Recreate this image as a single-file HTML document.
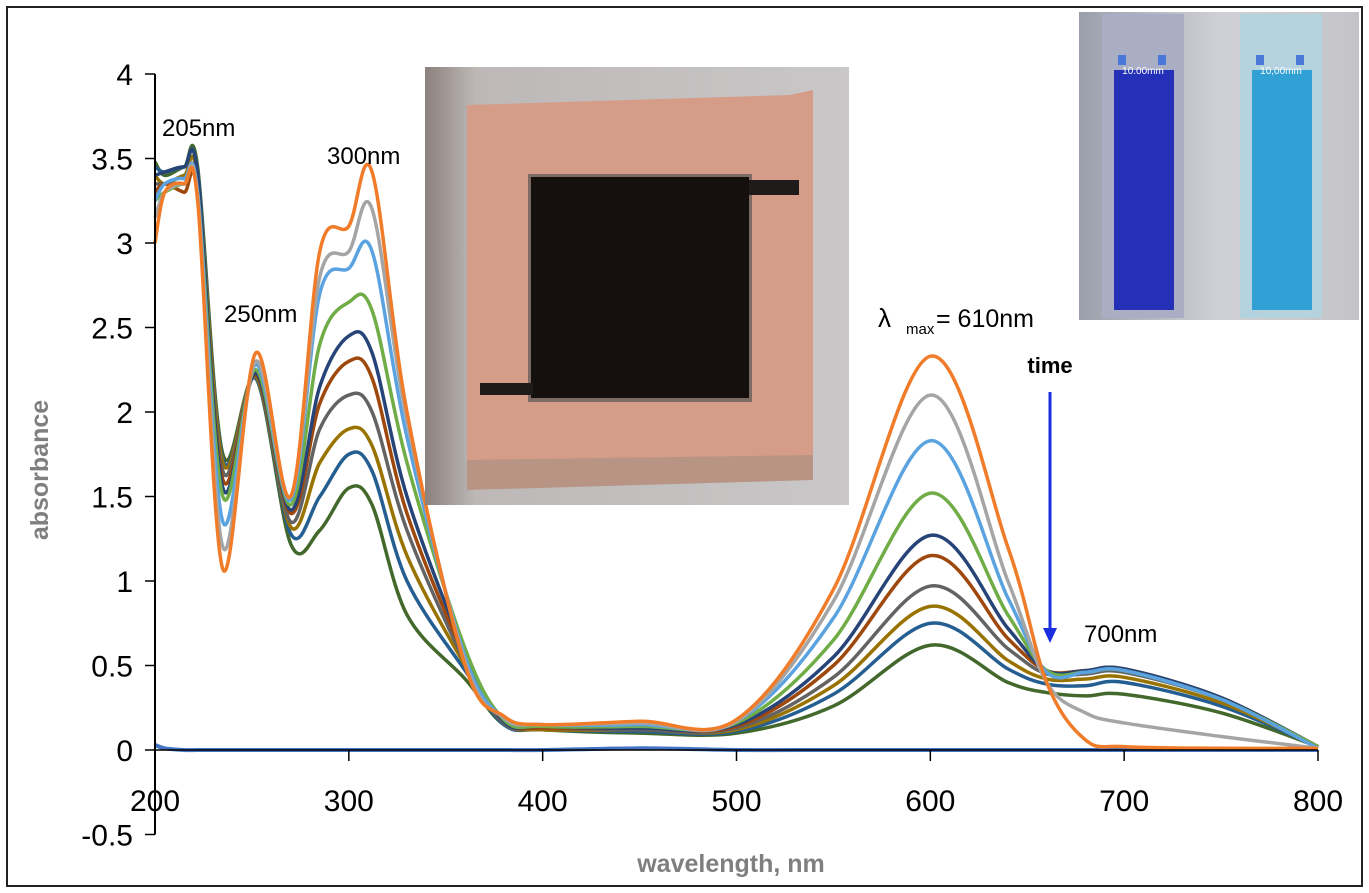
<!DOCTYPE html>
<html><head><meta charset="utf-8">
<style>
body{margin:0;background:#fff;font-family:"Liberation Sans",sans-serif;}
#wrap{position:relative;width:1369px;height:893px;overflow:hidden;}
</style></head>
<body>
<div id="wrap">
<svg id="chart" width="1369" height="893" xmlns="http://www.w3.org/2000/svg">
<defs>
<linearGradient id="pg" x1="0" x2="1" y1="0" y2="0"><stop offset="0" stop-color="#8c817c"/><stop offset="0.12" stop-color="#bdb8b7"/><stop offset="1" stop-color="#c9c7c8"/></linearGradient>
<linearGradient id="cg" x1="0" x2="1" y1="0" y2="0"><stop offset="0" stop-color="#9aa0ab"/><stop offset="0.5" stop-color="#cfd0d5"/><stop offset="1" stop-color="#c4c4c8"/></linearGradient>
</defs>
<rect x="7" y="7" width="1355" height="879" fill="#fff" stroke="#222" stroke-width="2"/>
<g id="plot"></g>
<g>
<rect x="425" y="67" width="424" height="438" fill="url(#pg)"/>
<polygon points="467,105 790,95 813,90 813,470 467,480" fill="#d59c88"/>
<polygon points="467,460 813,455 813,480 467,490" fill="#b89484"/>
<rect x="528" y="174" width="224" height="228" fill="#7d6a62"/>
<rect x="531" y="177" width="218" height="221" fill="#150f0e"/>
<rect x="749" y="180" width="50" height="15" fill="#1e1b1a"/>
<rect x="480" y="383" width="53" height="12" fill="#1e1b1a"/>
</g>
<g>
<rect x="1079" y="12" width="280" height="308" fill="url(#cg)"/>
<rect x="1102" y="14" width="82" height="304" fill="#a9aec4"/>
<rect x="1114" y="70" width="60" height="240" fill="#2530b8"/>
<rect x="1240" y="14" width="82" height="304" fill="#b5d2df"/>
<rect x="1252" y="70" width="60" height="240" fill="#31a0d4"/>
<rect x="1118" y="55" width="8" height="10" fill="#4a78d8"/>
<rect x="1158" y="55" width="8" height="10" fill="#4a78d8"/>
<rect x="1256" y="55" width="8" height="10" fill="#4a78d8"/>
<rect x="1296" y="55" width="8" height="10" fill="#4a78d8"/>
<text x="1143" y="74" font-size="10" fill="#fff" text-anchor="middle">10.00mm</text>
<text x="1281" y="74" font-size="10" fill="#fff" text-anchor="middle">10,00mm</text>
</g>
<g id="annot"></g>
</svg>
</div>
<script>
const wavelengths=[200,205,215,222,235,252,270,285,300,312,330,360,380,400,450,500,550,600,640,660,680,700,750,800];
const seriesColors=["#f07c2a","#a5a5a5","#5ba3e0","#70ad47","#264478","#9e480e","#636363","#997300","#255e91","#43682b"];
const s1=[3.0,3.3,3.35,3.25,1.07,2.35,1.5,2.95,3.1,3.42,2.0,0.5,0.2,0.15,0.17,0.18,0.95,2.33,1.2,0.4,0.06,0.02,0.01,0.01];
const s2=[3.15,3.3,3.35,3.28,1.2,2.3,1.5,2.8,2.95,3.2,1.95,0.52,0.19,0.15,0.16,0.17,0.88,2.1,1.0,0.4,0.22,0.16,0.08,0.01];
const s3=[3.25,3.35,3.38,3.3,1.35,2.28,1.48,2.7,2.85,2.95,1.85,0.55,0.19,0.15,0.15,0.17,0.78,1.83,0.9,0.46,0.46,0.47,0.3,0.01];
const s4=[3.25,3.3,3.35,3.3,1.5,2.25,1.45,2.4,2.65,2.6,1.7,0.6,0.18,0.14,0.14,0.16,0.65,1.52,0.8,0.47,0.46,0.47,0.3,0.02];
const s5=[3.4,3.42,3.45,3.4,1.55,2.23,1.42,2.15,2.45,2.35,1.5,0.58,0.17,0.14,0.13,0.15,0.55,1.27,0.72,0.47,0.47,0.48,0.31,0.02];
const s6=[3.3,3.35,3.3,3.3,1.6,2.22,1.4,2.05,2.3,2.2,1.4,0.55,0.17,0.13,0.13,0.14,0.5,1.15,0.66,0.47,0.47,0.48,0.31,0.02];
const s7=[3.35,3.35,3.35,3.3,1.65,2.22,1.35,1.9,2.1,2.0,1.3,0.52,0.16,0.13,0.12,0.13,0.43,0.97,0.6,0.45,0.45,0.46,0.3,0.02];
const s8=[3.4,3.35,3.4,3.38,1.7,2.21,1.32,1.7,1.9,1.8,1.15,0.5,0.16,0.12,0.12,0.12,0.38,0.85,0.53,0.42,0.42,0.43,0.28,0.02];
const s9=[3.45,3.42,3.45,3.42,1.72,2.2,1.28,1.5,1.75,1.65,1.0,0.47,0.15,0.12,0.11,0.11,0.33,0.75,0.48,0.39,0.38,0.4,0.26,0.02];
const s10=[3.48,3.4,3.45,3.45,1.75,2.2,1.22,1.3,1.55,1.45,0.8,0.42,0.15,0.12,0.1,0.1,0.26,0.62,0.4,0.34,0.32,0.33,0.22,0.02];
const blankSeries=[0.03,0.01,0.0,0.0,0.0,0.0,0.0,0.0,0.0,0.0,0.0,0.0,0.0,0.0,0.01,0.0,0.0,0.0,0.0,0.0,0.0,0.0,0.0,0.0];
const allSeries=[s1,s2,s3,s4,s5,s6,s7,s8,s9,s10];
const xTicks=[200,300,400,500,600,700,800];
const yTicks=[-0.5,0,0.5,1,1.5,2,2.5,3,3.5,4];
const yTickLabels=["-0.5","0","0.5","1","1.5","2","2.5","3","3.5","4"];

const NS="http://www.w3.org/2000/svg";
const g=document.getElementById('plot');
const an=document.getElementById('annot');
function xs(w){return 155+(w-200)*(1318-155)/600;}
function ys(v){return 750-169*v;}
function mk(tag,attrs){const e=document.createElementNS(NS,tag);for(const k in attrs)e.setAttribute(k,attrs[k]);return e;}
function smooth(vals){
  const p=wavelengths.map((w,i)=>[xs(w),ys(vals[i])]);
  let d="M"+p[0][0]+","+p[0][1];
  for(let i=0;i<p.length-1;i++){
    const p0=p[Math.max(0,i-1)],p1=p[i],p2=p[i+1],p3=p[Math.min(p.length-1,i+2)];
    const c1=[p1[0]+(p2[0]-p0[0])/6,p1[1]+(p2[1]-p0[1])/6];
    const c2=[p2[0]-(p3[0]-p1[0])/6,p2[1]-(p3[1]-p1[1])/6];
    d+=` C${c1[0]},${c1[1]} ${c2[0]},${c2[1]} ${p2[0]},${p2[1]}`;
  }
  return d;
}
const bl=mk('path',{d:smooth(blankSeries),fill:'none',stroke:'#4472c4','stroke-width':4});


g.appendChild(bl);
for(let i=allSeries.length-1;i>=0;i--){
  const p=mk('path',{d:smooth(allSeries[i]),fill:'none',stroke:seriesColors[i],'stroke-width':3.5});
  
  
  g.appendChild(p);
}
const ya=mk('line',{x1:155,y1:ys(4),x2:155,y2:ys(-0.5),stroke:'#000','stroke-width':2});


g.appendChild(ya);
const xa=mk('line',{x1:155,y1:ys(0),x2:1318,y2:ys(0),stroke:'#000','stroke-width':1.5});


g.appendChild(xa);
xTicks.forEach(t=>{
  const tk=mk('line',{x1:xs(t),y1:ys(0),x2:xs(t),y2:ys(0)+11,stroke:'#000','stroke-width':1.5});
  
  
  g.appendChild(tk);
  const tx=mk('text',{x:xs(t),y:811,'font-size':30,'text-anchor':'middle',fill:'#000'});
  tx.textContent=t;
  
  
  g.appendChild(tx);
});
yTicks.forEach((t,i)=>{
  const tk=mk('line',{x1:145,y1:ys(t),x2:155,y2:ys(t),stroke:'#000','stroke-width':1.5});
  
  
  g.appendChild(tk);
  const tx=mk('text',{x:133,y:ys(t)+11,'font-size':30,'text-anchor':'end',fill:'#000'});
  tx.textContent=yTickLabels[i];
  
  
  g.appendChild(tx);
});
function txt(s,attrs,name){const t=mk('text',attrs);t.textContent=s;
  
  
  an.appendChild(t);return t;}
txt('absorbance',{x:0,y:0,'font-size':25,'font-weight':'bold',fill:'#7f7f7f','text-anchor':'middle',transform:'translate(48,470) rotate(-90)'},'y-axis-title');
txt('wavelength, nm',{x:731,y:872,'font-size':25,'font-weight':'bold',fill:'#7f7f7f','text-anchor':'middle'},'x-axis-title');
txt('205nm',{x:162,y:136,'font-size':24,fill:'#000'},'label-205nm');
txt('300nm',{x:327,y:164,'font-size':24,fill:'#000'},'label-300nm');
txt('250nm',{x:224,y:322,'font-size':24,fill:'#000'},'label-250nm');
txt('λ',{x:878,y:327,'font-size':26,fill:'#000'},'label-lambda-max');
txt('max',{x:906,y:334,'font-size':15,fill:'#000'},'label-max-subscript');
txt('= 610nm',{x:936,y:327,'font-size':25,fill:'#000'},'label-610nm');
txt('time',{x:1050,y:373,'font-size':22,'font-weight':'bold',fill:'#000','text-anchor':'middle'},'label-time');
txt('700nm',{x:1084,y:642,'font-size':24,fill:'#000'},'label-700nm');
const ar=mk('line',{x1:1050,y1:392,x2:1050,y2:630,stroke:'#1a2ee0','stroke-width':3});


an.appendChild(ar);
const ah=mk('polygon',{points:'1043,628 1057,628 1050,643',fill:'#1a2ee0'});


an.appendChild(ah);
</script>
</body></html>
